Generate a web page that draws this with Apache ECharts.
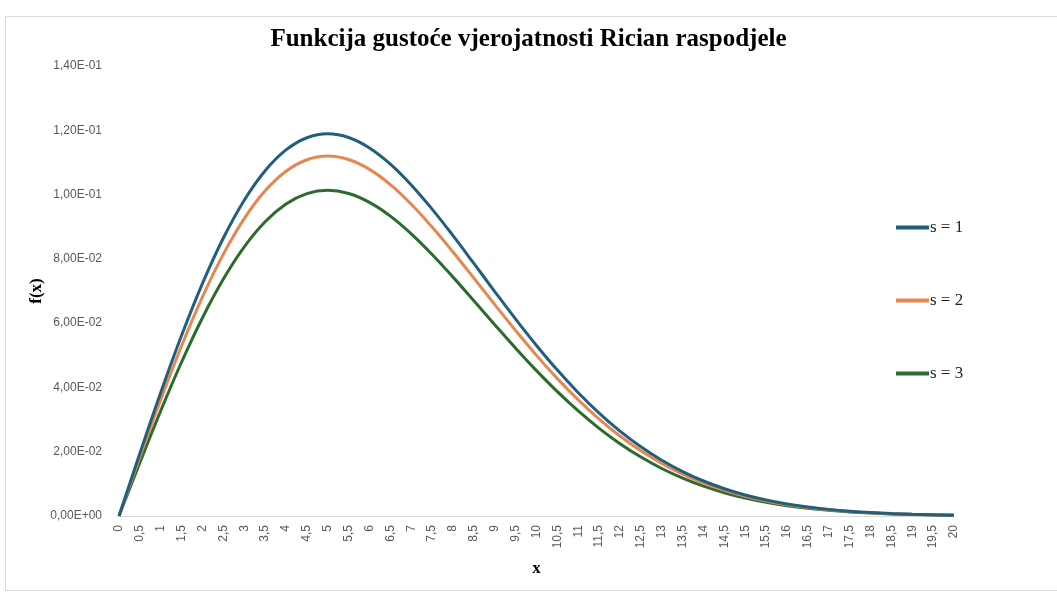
<!DOCTYPE html>
<html>
<head>
<meta charset="utf-8">
<script src="https://cdn.jsdelivr.net/npm/echarts@6/dist/echarts.min.js"></script>
<style>
  html, body { margin: 0; padding: 0; background: #ffffff; }
  #chart { width: 1057px; height: 592px; }
</style>
</head>
<body>
<div id="chart"></div>
<script>
// ---- data ----
const titleText = 'Funkcija gustoće vjerojatnosti Rician raspodjele';
const categories = ['0','0,5','1','1,5','2','2,5','3','3,5','4','4,5','5','5,5','6','6,5','7','7,5','8','8,5','9','9,5','10',
  '10,5','11','11,5','12','12,5','13','13,5','14','14,5','15','15,5','16','16,5','17','17,5','18','18,5','19','19,5','20'];
const seriesNames = ['s = 1', 's = 2', 's = 3'];
const s1 = [0, 0.019506, 0.038432, 0.056224, 0.072387, 0.086503, 0.098247, 0.107409, 0.113884, 0.117679, 0.118904,
  0.117757, 0.114507, 0.109474, 0.103006, 0.095467, 0.087210, 0.078567, 0.069833, 0.061262, 0.053062,
  0.045388, 0.038351, 0.032016, 0.026411, 0.021533, 0.017353, 0.013826, 0.010891, 0.008483, 0.006533,
  0.004976, 0.003749, 0.002794, 0.002059, 0.001501, 0.001082, 0.000772, 0.000545, 0.000381, 0.000263];
const s2 = [0, 0.018370, 0.036194, 0.052950, 0.068171, 0.081465, 0.092526, 0.101154, 0.107251, 0.110826, 0.111979,
  0.110899, 0.107838, 0.103098, 0.097007, 0.089908, 0.082132, 0.073992, 0.065767, 0.057695, 0.049972,
  0.042745, 0.036118, 0.030152, 0.024873, 0.020279, 0.016343, 0.013021, 0.010257, 0.007989, 0.006153,
  0.004687, 0.003531, 0.002631, 0.001939, 0.001413, 0.001019, 0.000727, 0.000513, 0.000359, 0.000247];
const s3 = [0, 0.016622, 0.032749, 0.047911, 0.061684, 0.073713, 0.083721, 0.091528, 0.097045, 0.100279, 0.101323,
  0.100346, 0.097577, 0.093287, 0.087776, 0.081352, 0.074316, 0.066950, 0.059508, 0.052204, 0.045216,
  0.038677, 0.032681, 0.027282, 0.022506, 0.018349, 0.014788, 0.011781, 0.009281, 0.007228, 0.005567,
  0.004241, 0.003195, 0.002381, 0.001755, 0.001279, 0.000922, 0.000658, 0.000464, 0.000325, 0.000224];
const yMin = 0, yMax = 0.14, yStep = 0.02;
const xAxisName = 'x';
const yAxisName = 'f(x)';

// ---- styling ----
const colors = ['#215f7e', '#e8864f', '#2a6b2e'];
const serif = '"Liberation Serif", "Times New Roman", serif';
const sans = '"Liberation Sans", Arial, sans-serif';

function sciComma(v) {
  if (Math.abs(v) < 1e-12) return '0,00E+00';
  const parts = v.toExponential(2).split('e');
  const mant = parts[0].replace('.', ',');
  const e = parseInt(parts[1], 10);
  const sign = e < 0 ? '-' : '+';
  const ea = Math.abs(e);
  return mant + 'E' + sign + (ea < 10 ? '0' + ea : String(ea));
}

const chart = echarts.init(document.getElementById('chart'), null, { renderer: 'canvas' });
const data = [s1, s2, s3];
chart.setOption({
  animation: false,
  backgroundColor: '#ffffff',
  color: colors,
  title: {
    text: titleText,
    left: 'center',
    top: 22,
    textStyle: { fontFamily: serif, fontWeight: 'bold', fontSize: 25, color: '#000000' }
  },
  graphic: [{
    type: 'rect',
    shape: { x: 5.5, y: 16.5, width: 1100, height: 574 },
    style: { fill: 'none', stroke: '#d9d9d9', lineWidth: 1 },
    silent: true
  }],
  legend: {
    orient: 'vertical',
    left: 896,
    top: 219,
    padding: 0,
    itemGap: 56,
    itemWidth: 33,
    itemHeight: 4,
    icon: 'rect',
    textStyle: { fontFamily: serif, fontSize: 17, color: '#222222', padding: [0, 0, 0, -4], lineHeight: 17 },
    data: seriesNames
  },
  grid: { left: 119, right: 103, top: 66, bottom: 76, containLabel: false },
  xAxis: {
    type: 'category',
    data: categories,
    boundaryGap: false,
    name: xAxisName,
    nameLocation: 'middle',
    nameGap: 44,
    nameMoveOverlap: false,
    nameTextStyle: { fontFamily: serif, fontWeight: 'bold', fontSize: 17, color: '#000000' },
    axisLine: { show: true, lineStyle: { color: '#d9d9d9', width: 1 } },
    axisTick: { show: false },
    axisLabel: { interval: 0, rotate: 90, margin: 9, fontFamily: sans, fontSize: 12, color: '#595959' },
    splitLine: { show: false }
  },
  yAxis: {
    type: 'value',
    min: yMin,
    max: yMax,
    interval: yStep,
    name: yAxisName,
    nameLocation: 'middle',
    nameRotate: 90,
    nameGap: 74,
    nameMoveOverlap: false,
    nameTextStyle: { fontFamily: serif, fontWeight: 'bold', fontSize: 17, color: '#000000' },
    axisLine: { show: false },
    axisTick: { show: false },
    splitLine: { show: false },
    axisLabel: { margin: 17, fontFamily: sans, fontSize: 12, color: '#595959', formatter: sciComma }
  },
  series: seriesNames.map((n, i) => ({
    name: n,
    type: 'line',
    data: data[i],
    smooth: 0.4,
    showSymbol: false,
    symbol: 'none',
    lineStyle: { width: 3, color: colors[i] },
    itemStyle: { color: colors[i] },
    z: 3 - i
  }))
});
</script>
</body>
</html>
